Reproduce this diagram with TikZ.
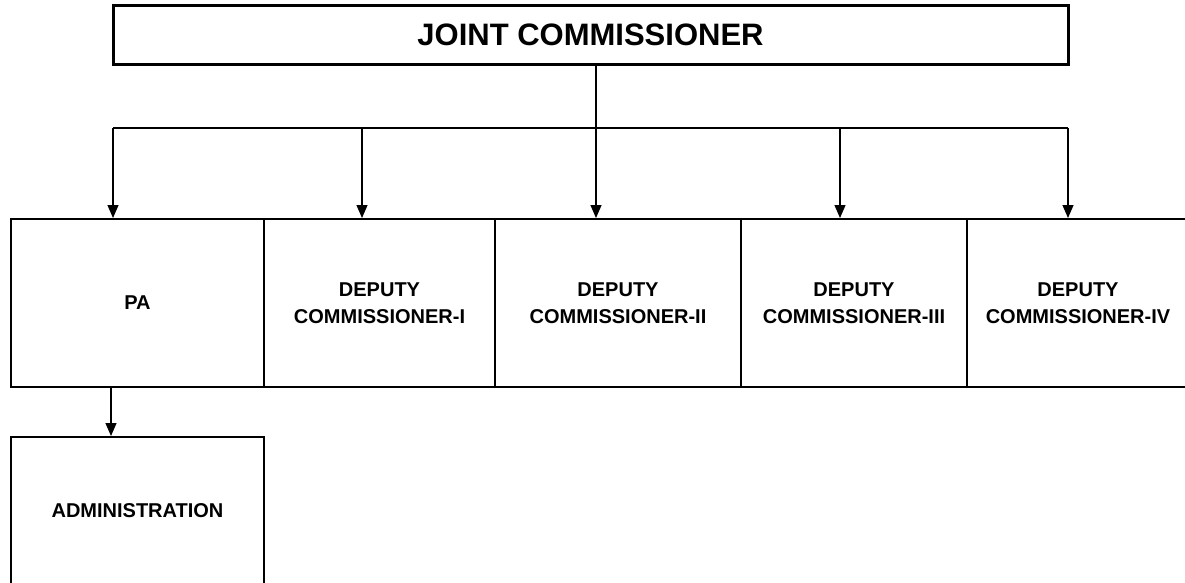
\documentclass[tikz,border=0pt]{standalone}
\usepackage{fontspec}
\setmainfont{Liberation Sans}
\usetikzlibrary{arrows.meta}

\begin{document}
\begin{tikzpicture}[
    x = 1pt,
    y = -1pt,
    >={Triangle[length=13pt,width=11pt]},
    link/.style = {
      line width = 1.2pt,
      ->
    },
    unit/.style = {
      draw,
      rectangle,
      line width = 2pt,
      inner sep = 0pt,
      align = center,
      font = \fontsize{20}{26.5}\selectfont\bfseries,
      minimum height = 168pt
    }
  ]
  \useasboundingbox (0,0) rectangle (1185,582);

  \node[unit, line width = 3pt, minimum width = 955pt, minimum height = 59pt,
        font = \fontsize{31}{37}\selectfont\bfseries] (jc) at (590.5,34.5) {JOINT COMMISSIONER};

  \node[unit, minimum width = 253pt] (pa)  at (137.5,303) {PA};
  \node[unit, minimum width = 231pt] (dc1) at (379.5,303) {DEPUTY\\COMMISSIONER-I};
  \node[unit, minimum width = 246pt] (dc2) at (618,303)   {DEPUTY\\COMMISSIONER-II};
  \node[unit, minimum width = 226pt] (dc3) at (854,303)   {DEPUTY\\COMMISSIONER-III};
  \node[unit, minimum width = 222pt] (dc4) at (1078,303)  {DEPUTY\\COMMISSIONER-IV};

  \node[unit, minimum width = 253pt, minimum height = 148pt] (adm) at (137.5,511) {ADMINISTRATION};

  \coordinate (b1) at (113,128);
  \coordinate (b2) at (362,128);
  \coordinate (b3) at (596,128);
  \coordinate (b4) at (840,128);
  \coordinate (b5) at (1068,128);
  \coordinate (a1) at (111,400);

  \draw[line width = 1.2pt] (b1) -- (b5);

  \draw[link] (b1) -- (b1 |- pa.north);
  \draw[link] (b2) -- (b2 |- dc1.north);
  \draw[link] (b3 |- jc.south) -- (b3 |- dc2.north);
  \draw[link] (b4) -- (b4 |- dc3.north);
  \draw[link] (b5) -- (b5 |- dc4.north);

  \draw[link] (a1 |- pa.south) -- (a1 |- adm.north);
\end{tikzpicture}
\end{document}
